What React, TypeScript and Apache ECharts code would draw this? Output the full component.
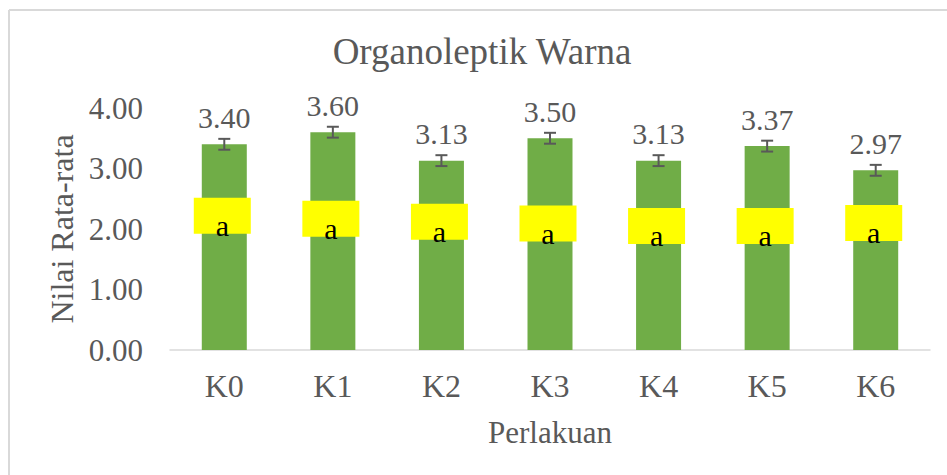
import React, { useEffect, useRef } from "react";
import * as echarts from "echarts";

const categories = ["K0", "K1", "K2", "K3", "K4", "K5", "K6"];
const means = [3.4, 3.6, 3.13, 3.5, 3.13, 3.37, 2.97];
const errors = [0.09, 0.09, 0.09, 0.09, 0.09, 0.09, 0.09];
const letters = ["a", "a", "a", "a", "a", "a", "a"];
const letterLevels = [2.22, 2.17, 2.12, 2.09, 2.05, 2.05, 2.1];
const yTicks = [0, 1, 2, 3, 4];

const FONT = "Liberation Serif, Times New Roman, serif";
const GREY = "#595959";

export default function App() {
  const ref = useRef<HTMLDivElement>(null);
  useEffect(() => {
    if (!ref.current) return;
    const chart = echarts.init(ref.current, null, { renderer: "svg" });
    chart.setOption({
      animation: false,
      backgroundColor: "#ffffff",
      textStyle: { fontFamily: FONT },
      title: {
        text: "Organoleptik Warna",
        left: 477,
        top: 28,
        textAlign: "center",
        textStyle: { fontFamily: FONT, fontSize: 37, fontWeight: "normal", color: GREY },
      },
      graphic: [
        { type: "line", shape: { x1: 9, y1: 10, x2: 9, y2: 475 }, style: { stroke: "#d9d9d9", lineWidth: 2 } },
        { type: "line", shape: { x1: 9, y1: 10, x2: 947, y2: 10 }, style: { stroke: "#d9d9d9", lineWidth: 2 } },
      ],
      grid: { left: 170, right: 17, top: 108, bottom: 125 },
      xAxis: {
        type: "category",
        data: categories,
        name: "Perlakuan",
        nameLocation: "middle",
        nameGap: 67,
        nameTextStyle: { fontFamily: FONT, fontSize: 31, color: GREY },
        axisLine: { lineStyle: { color: "#d9d9d9", width: 1.5 } },
        axisTick: { show: false },
        axisLabel: { fontFamily: FONT, fontSize: 32, color: GREY, margin: 20 },
      },
      yAxis: {
        type: "value",
        min: yTicks[0],
        max: yTicks[yTicks.length - 1],
        interval: 1,
        name: "Nilai Rata-rata",
        nameLocation: "middle",
        nameGap: 92,
        nameTextStyle: { fontFamily: FONT, fontSize: 32, color: GREY },
        axisLine: { show: false },
        axisTick: { show: false },
        splitLine: { show: false },
        axisLabel: {
          fontFamily: FONT,
          fontSize: 31,
          color: GREY,
          margin: 27,
          formatter: (v: number) => v.toFixed(2),
        },
      },
      series: [
        {
          type: "bar",
          data: means,
          barWidth: 45,
          itemStyle: { color: "#70AD47" },
          label: {
            show: true,
            position: "top",
            distance: 12,
            fontFamily: FONT,
            fontSize: 30,
            color: GREY,
            formatter: (p: any) => Number(p.value).toFixed(2),
          },
          z: 2,
        },
        {
          type: "custom",
          data: means.map((m, i) => [i, m, errors[i]]),
          z: 3,
          renderItem: (params: any, api: any) => {
            const i = api.value(0);
            const m = api.value(1);
            const e = api.value(2);
            const top = api.coord([i, m + e]);
            const bot = api.coord([i, m - e]);
            const hw = 6;
            const st = { stroke: GREY, lineWidth: 2 };
            return {
              type: "group",
              children: [
                { type: "line", shape: { x1: top[0], y1: top[1], x2: bot[0], y2: bot[1] }, style: st },
                { type: "line", shape: { x1: top[0] - hw, y1: top[1], x2: top[0] + hw, y2: top[1] }, style: st },
                { type: "line", shape: { x1: bot[0] - hw, y1: bot[1], x2: bot[0] + hw, y2: bot[1] }, style: st },
              ],
            };
          },
        },
        {
          type: "custom",
          data: letterLevels.map((v, i) => [i, v]),
          z: 4,
          renderItem: (params: any, api: any) => {
            const idx = params.dataIndex;
            const c = api.coord([api.value(0), api.value(1)]);
            const w = 57;
            const h = 36;
            const cx = c[0] - 2;
            return {
              type: "group",
              children: [
                { type: "rect", shape: { x: cx - w / 2, y: c[1] - h / 2, width: w, height: h }, style: { fill: "#FFFF00" } },
                {
                  type: "text",
                  x: cx,
                  y: c[1] + 10,
                  style: {
                    text: letters[idx],
                    fontFamily: FONT,
                    fontSize: 30,
                    fill: "#000000",
                    align: "center",
                    verticalAlign: "middle",
                  },
                },
              ],
            };
          },
        },
      ],
    });
    return () => chart.dispose();
  }, []);
  return (
    <div
      ref={ref}
      style={{ position: "absolute", left: 0, top: 0, width: 947, height: 475 }}
    />
  );
}
